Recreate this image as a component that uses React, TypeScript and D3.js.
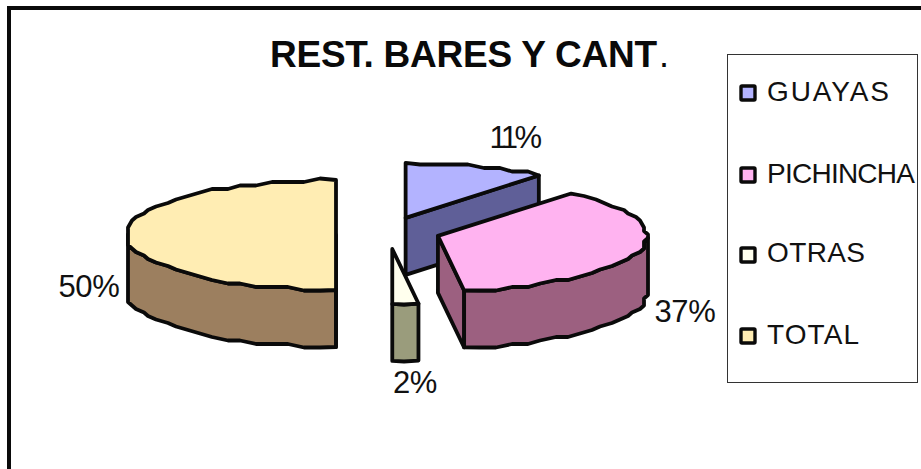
import React from "react";
import * as d3 from "d3";

const categories = ["GUAYAS", "PICHINCHA", "OTRAS", "TOTAL"];
const shares = [11, 37, 2, 50];
const topColors = ["#B3B3FF", "#FFB3F0", "#FFFFEE", "#FFEDB3"];
const sideColors = ["#5F5F98", "#9C6080", "#9A9C7C", "#9C7F5F"];
const titleText = "REST. BARES Y CANT";

// layout
const W = 921, H = 469;
const C = { x: 388, y: 235 };
const RX = 209, RY = 55, DEPTH = 57;
const EXPLODE_X = 52, EXPLODE_Y = 14;
const NUDGE_X = [0, 0, 1, 0];
const NUDGE_Y = [-4, -3, 0, 0];
const labelPos = [
  { x: 514, y: 148 },
  { x: 685, y: 322 },
  { x: 415, y: 393 },
  { x: 89, y: 297 },
];
const legendRows = [
  { sy: 93, by: 101, len: 122 },
  { sy: 175, by: 183, len: 148 },
  { sy: 255, by: 262, len: 98 },
  { sy: 336, by: 344, len: 92 },
];

const pie = d3.pie<number>().sort(null).startAngle(0).endAngle(2 * Math.PI);
const arcs = pie(shares);
const fmt = d3.format(".0%");
const total = d3.sum(shares);

const line = d3.line<[number, number]>();
type P = [number, number];

function snap(p: P): P {
  // the source is drawn with a coarse polyline: vertices fall on a rough grid
  const gx = 4, gy = 3.5;
  return [Math.round(p[0] / gx) * gx, Math.round(p[1] / gy) * gy];
}

function Slice({ i }: { i: number }) {
  const a = arcs[i];
  const mid = (a.startAngle + a.endAngle) / 2;
  const cx = C.x + EXPLODE_X * Math.sin(mid) + NUDGE_X[i];
  const cy = C.y - EXPLODE_Y * Math.cos(mid) + NUDGE_Y[i];
  const at = (t: number): P => [cx + RX * Math.sin(t), cy - RY * Math.cos(t)];
  const n = Math.max(1, Math.round((a.endAngle - a.startAngle) / (Math.PI / 40)));
  const rim: P[] = d3.range(n + 1).map((k) => {
    const t = a.startAngle + ((a.endAngle - a.startAngle) * k) / n;
    const p = at(t);
    return k === 0 || k === n ? p : snap(p);
  });
  const apex: P = [cx, cy];
  const down = (p: P): P => [p[0], p[1] + DEPTH];
  const stroke = { stroke: "#0a0a0a", strokeWidth: 3.8, strokeLinejoin: "round" as const };
  const sides: P[][] = [];
  const front = rim.filter((_, k) => {
    const t = a.startAngle + ((a.endAngle - a.startAngle) * k) / n;
    return t >= Math.PI / 2 - 1e-6 && t <= 1.5 * Math.PI + 1e-6;
  });
  if (i === 0 || i === 1) {
    const e = rim[rim.length - 1];
    sides.push([apex, e, down(e), down(apex)]);
  }
  if (front.length > 1) sides.push([...front, ...front.slice().reverse().map(down)]);
  if (i === 3) {
    const s = rim[0];
    sides.push([apex, s, down(s), down(apex)]);
  }
  return (
    <g>
      {sides.map((s, k) => (
        <path key={k} d={line(s) + "Z"} fill={sideColors[i]} {...stroke} />
      ))}
      <path d={line([apex, ...rim]) + "Z"} fill={topColors[i]} {...stroke} />
    </g>
  );
}

export default function App() {
  const order = [0, 2, 1, 3];
  return (
    <svg
      width={W}
      height={H}
      style={{ position: "absolute", left: 0, top: 0, background: "#fff", fontFamily: "'Liberation Sans', Arial, sans-serif" }}
    >
      <rect x={9} y={8} width={1000} height={1000} fill="#fff" stroke="#0a0a0a" strokeWidth={4} />
      <text x={270} y={67} fontSize={37} fontWeight="bold" fill="#0a0a0a" textLength={387} lengthAdjust="spacing">
        {titleText}
      </text>
      <text x={659} y={67} fontSize={36} fill="#0a0a0a">.</text>

      {order.map((i) => (
        <Slice key={i} i={i} />
      ))}

      {arcs.map((a, i) => (
        <text key={i} x={labelPos[i].x} y={labelPos[i].y} textAnchor="middle" fontSize={31} fill="#111" letterSpacing={i === 0 ? -3.5 : -0.3}>
          {fmt(a.data / total)}
        </text>
      ))}

      <rect x={727.5} y={54.5} width={190} height={328} fill="#fff" stroke="#333" strokeWidth={1} />
      {categories.map((c, i) => (
        <g key={c}>
          <rect x={741} y={legendRows[i].sy - 7} width={14} height={14} fill={topColors[i]} stroke="#0a0a0a" strokeWidth={3.4} rx={1} />
          <text x={767} y={legendRows[i].by} fontSize={28} fill="#111" textLength={legendRows[i].len} lengthAdjust="spacing">
            {c}
          </text>
        </g>
      ))}
    </svg>
  );
}
